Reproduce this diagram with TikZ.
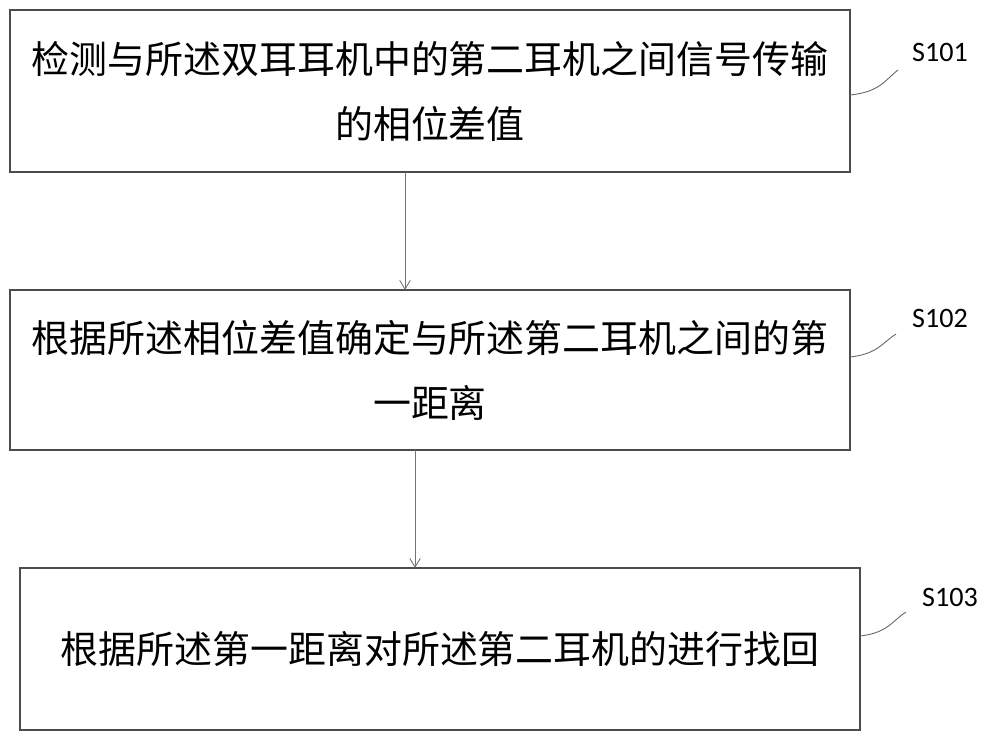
\documentclass[tikz,border=0pt]{standalone}
\usepackage{fontspec}
\newfontfamily\cjk{Noto Sans CJK SC}
\setmainfont{Carlito}
\usetikzlibrary{arrows.meta}
\begin{document}
\begin{tikzpicture}[x=0.02cm,y=-0.02cm]
    \tikzset{stepbox/.style={draw=black!70,line width=0.6pt,inner sep=0pt},
             steptext/.style={font=\cjk\fontsize{21.6}{37}\selectfont,align=center,text width=16.6cm},
             flow/.style={draw=black!55,line width=0.5pt,-{Straight Barb[length=5pt,width=6pt]}},
             tag/.style={font=\fontsize{16}{18}\selectfont,anchor=west},
             wiggle/.style={draw=black!60,line width=0.5pt}}

    \useasboundingbox (0,0) rectangle (1000,742);

    \draw[stepbox] (10,10) rectangle (850,172);
    \draw[stepbox] (10,290) rectangle (850,450);
    \draw[stepbox] (20,568) rectangle (860,730);

    \node[steptext] (t1) at (430,91) {检测与所述双耳耳机中的第二耳机之间信号传输\\的相位差值};
    \node[steptext] (t2) at (430,370) {根据所述相位差值确定与所述第二耳机之间的第\\一距离};
    \node[steptext] (t3) at (440,649) {根据所述第一距离对所述第二耳机的进行找回};

    \coordinate (b1) at (405,172);
    \coordinate (a2) at (405,290);
    \coordinate (b2) at (415,450);
    \coordinate (a3) at (415,568);
    \draw[flow] (b1) -- (a2);
    \draw[flow] (b2) -- (a3);

    \node[tag] (s1) at (906,52) {S101};
    \node[tag] (s2) at (906,318) {S102};
    \node[tag] (s3) at (916,597) {S103};

    \draw[wiggle] (850,95) .. controls (880,92) and (885,80) .. (898,70);
    \draw[wiggle] (850,357) .. controls (878,354) and (883,342) .. (896,334);
    \draw[wiggle] (860,636) .. controls (888,633) and (893,620) .. (906,612);
\end{tikzpicture}
\end{document}
